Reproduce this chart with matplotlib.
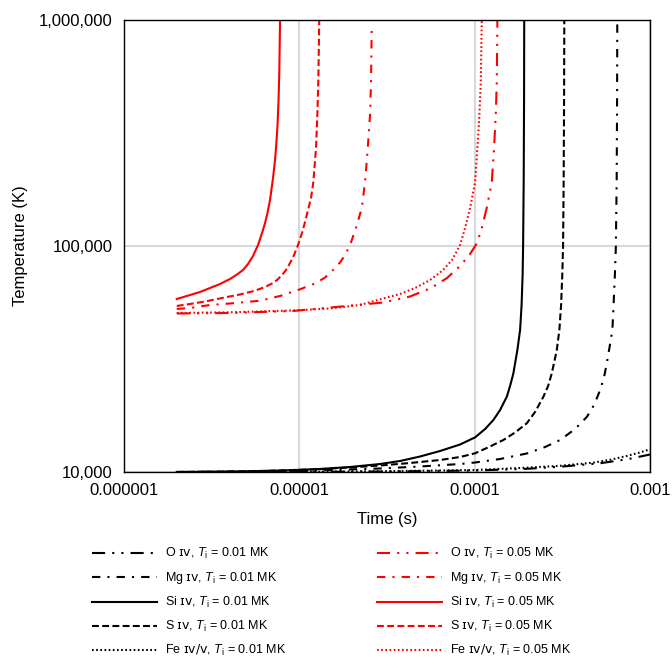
import matplotlib
matplotlib.use("Agg")
import matplotlib.pyplot as plt

plt.rcParams['font.family'] = ['Liberation Sans', 'DejaVu Sans']
plt.rcParams['mathtext.fontset'] = 'custom'
plt.rcParams['mathtext.rm'] = 'Liberation Sans'
plt.rcParams['mathtext.it'] = 'Liberation Sans:italic'
plt.rcParams['mathtext.sf'] = 'DejaVu Sans'

# ---- data (time in s, temperature in K) ----
# T_i = 0.01 MK (black)
t_O_01 = [2e-6, 1e-5, 3e-5, 1e-4, 1.98e-4, 3.07e-4, 5.19e-4, 7.5e-4, 1e-3]
T_O_01 = [10000, 10010, 10050, 10150, 10330, 10550, 10930, 11400, 11950]

t_Mg_01 = [2e-6, 1.009e-5, 2.887e-5, 4.882e-5, 8.257e-5, 1.006e-4, 1.396e-4,
           1.983e-4, 2.522e-4, 3.071e-4, 3.74e-4, 4.361e-4, 4.799e-4, 5.193e-4,
           5.472e-4, 5.669e-4, 5.974e-4, 6.102e-4, 6.198e-4, 6.305e-4,
           6.388e-4, 6.456e-4, 6.49e-4, 6.507e-4]
T_Mg_01 = [10000, 10102, 10363, 10576, 10848, 11016, 11415,
           12073, 12899, 13850, 15490, 17510, 19780, 23030,
           26300, 30230, 38320, 42430, 54720, 74250,
           99750, 195300, 440900, 1000000]

t_Si_01 = [2e-6, 4.024e-6, 8.074e-6, 1.313e-5, 1.947e-5, 2.887e-5, 3.754e-5,
           4.882e-5, 6.348e-5, 8.257e-5, 1.006e-4, 1.147e-4, 1.279e-4, 1.396e-4,
           1.525e-4, 1.592e-4, 1.663e-4, 1.752e-4, 1.816e-4, 1.852e-4,
           1.877e-4, 1.889e-4, 1.904e-4, 1.913e-4, 1.917e-4]
T_Si_01 = [10000, 10041, 10154, 10310, 10522, 10848, 11184,
           11708, 12383, 13230, 14230, 15490, 16980, 18790,
           21520, 23990, 27310, 34610, 42430, 54720,
           74250, 99750, 195300, 440900, 1000000]

t_S_01 = [2e-6, 5.235e-6, 1.262e-5, 1.947e-5, 3.003e-5, 4.281e-5, 6.348e-5,
          8.257e-5, 1.006e-4, 1.224e-4, 1.458e-4, 1.7e-4, 1.983e-4, 2.211e-4,
          2.466e-4, 2.623e-4, 2.754e-4, 2.94e-4, 3.042e-4, 3.111e-4,
          3.16e-4, 3.193e-4, 3.218e-4, 3.236e-4, 3.245e-4]
T_S_01 = [10000, 10061, 10279, 10469, 10706, 10959, 11298,
          11650, 12098, 12966, 13850, 14950, 16420, 18420,
          21520, 23990, 27310, 34610, 42430, 54720,
          74250, 99750, 195300, 440900, 1000000]

t_Fe_01 = [2e-6, 1e-5, 3e-5, 1e-4, 1.98e-4, 3.07e-4, 4.75e-4, 6e-4, 7.36e-4,
           8.6e-4, 1e-3]
T_Fe_01 = [10000, 10020, 10080, 10200, 10450, 10650, 11000, 11350, 11770,
           12150, 12600]

# T_i = 0.05 MK (red)
t_O_05 = [2e-6, 4.024e-6, 9.21e-6, 1.872e-5, 3.003e-5, 4.281e-5, 5.641e-5,
          6.961e-5, 8.257e-5, 9.417e-5, 1.032e-4, 1.098e-4, 1.172e-4,
          1.252e-4, 1.29e-4, 1.319e-4, 1.337e-4, 1.348e-4]
T_O_05 = [50190, 50450, 51490, 54180, 56130, 59670, 65050,
          72010, 81380, 91940, 102850, 119800, 146900,
          191300, 270400, 378400, 529600, 1000000]

t_Mg_05 = [2e-6, 2.38e-6, 3.094e-6, 4.024e-6, 5.967e-6, 7.762e-6, 1.009e-5,
           1.245e-5, 1.402e-5, 1.557e-5, 1.707e-5, 1.823e-5, 1.947e-5,
           2.106e-5, 2.27e-5, 2.371e-5, 2.456e-5, 2.531e-5, 2.564e-5, 2.588e-5]
T_Mg_05 = [52550, 53080, 54720, 55560, 57160, 59970, 64190,
           68440, 72380, 78130, 84330, 91000, 100770,
           119800, 146900, 191300, 270400, 378400, 529600, 945600]

t_Si_05 = [2e-6, 2.38e-6, 2.714e-6, 3.094e-6, 3.528e-6, 4.024e-6, 4.413e-6,
           4.774e-6, 5.098e-6, 5.444e-6, 5.813e-6, 6.13e-6, 6.376e-6,
           6.545e-6, 6.807e-6, 7.079e-6, 7.268e-6, 7.364e-6, 7.511e-6,
           7.611e-6, 7.691e-6, 7.762e-6]
T_Si_05 = [58160, 60570, 62450, 65050, 67760, 71300, 74640,
           78130, 83070, 90100, 100770, 113900, 126100,
           136800, 159300, 199300, 239300, 270400, 341800,
           440900, 598200, 1000000]

t_S_05 = [2e-6, 2.38e-6, 2.898e-6, 3.869e-6, 4.589e-6, 5.515e-6, 6.376e-6,
          6.988e-6, 7.462e-6, 7.967e-6, 8.399e-6, 8.851e-6, 9.328e-6,
          9.831e-6, 1.036e-5, 1.078e-5, 1.121e-5, 1.166e-5, 1.202e-5,
          1.245e-5, 1.267e-5, 1.283e-5, 1.299e-5]
T_S_05 = [54180, 55290, 56700, 59360, 60890, 63100, 65720,
          68100, 70560, 74250, 78130, 83900, 91000,
          100770, 113900, 127400, 143900, 162600, 191300,
          270400, 378400, 529600, 1000000]

t_Fe_05 = [2e-6, 4.024e-6, 9.21e-6, 1.497e-5, 2.22e-5, 3.003e-5, 3.754e-5,
           4.574e-5, 5.57e-5, 6.605e-5, 7.432e-5, 8.257e-5, 8.816e-5,
           9.417e-5, 1.006e-4, 1.036e-4, 1.064e-4, 1.084e-4, 1.098e-4]
T_Fe_05 = [50450, 50810, 51750, 52810, 54720, 58470, 61200,
           65050, 70560, 78130, 86500, 100770, 119800,
           146900, 191300, 270400, 378400, 529600, 1000000]

x_ticks = [1e-6, 1e-5, 1e-4, 1e-3]
x_tick_labels = ["0.000001", "0.00001", "0.0001", "0.001"]
y_ticks = [1e4, 1e5, 1e6]
y_tick_labels = ["10,000", "100,000", "1,000,000"]

ions = ["O $\\mathsf{ɪᴠ}$", "Mg $\\mathsf{ɪᴠ}$", "Si $\\mathsf{ɪᴠ}$",
        "S $\\mathsf{ɪᴠ}$", "Fe $\\mathsf{ɪᴠ/ᴠ}$"]
styles = [(0, (6.3, 3.4, 1, 3.4, 1, 3.4)),
          (0, (4, 3.4, 1, 3.4)),
          '-',
          (0, (3.3, 1.6)),
          (0, (0.8, 1.2))]

series_01 = [(t_O_01, T_O_01), (t_Mg_01, T_Mg_01), (t_Si_01, T_Si_01),
             (t_S_01, T_S_01), (t_Fe_01, T_Fe_01)]
series_05 = [(t_O_05, T_O_05), (t_Mg_05, T_Mg_05), (t_Si_05, T_Si_05),
             (t_S_05, T_S_05), (t_Fe_05, T_Fe_05)]

fig = plt.figure(figsize=(6.72, 6.57), dpi=100)
ax = fig.add_axes([124/672, 1-472/657, (650-124)/672, (472-19.5)/657])

h01, l01, h05, l05 = [], [], [], []
for (t, T), ion, ls in zip(series_01, ions, styles):
    h, = ax.plot(t, T, color='black', lw=1.5, ls=ls)
    h01.append(h)
    l01.append(ion + ", $T_\\mathrm{i}$ = 0.01 MK")
for (t, T), ion, ls in zip(series_05, ions, styles):
    h, = ax.plot(t, T, color='#ff0000', lw=1.5, ls=ls)
    h05.append(h)
    l05.append(ion + ", $T_\\mathrm{i}$ = 0.05 MK")

ax.set_xscale('log')
ax.set_yscale('log')
ax.set_xlim(1e-6, 1e-3)
ax.set_ylim(1e4, 1e6)
ax.set_xticks(x_ticks)
ax.set_xticklabels(x_tick_labels)
ax.set_yticks(y_ticks)
ax.set_yticklabels(y_tick_labels)
ax.minorticks_off()
ax.tick_params(length=0, pad=8, labelsize=12)
ax.grid(True, which='major', color='#d9d9d9', lw=1.5)
ax.set_axisbelow(True)
for sp in ax.spines.values():
    sp.set_linewidth(1.0)
    sp.set_color('black')

ax.set_xlabel("Time (s)", fontsize=12, labelpad=10)
ax.set_ylabel("Temperature (K)", fontsize=12, labelpad=8)

leg_kw = dict(loc='upper left', frameon=False, fontsize=9, handlelength=5.2,
              handletextpad=0.64, labelspacing=0.72, borderpad=0,
              borderaxespad=0)
leg1 = fig.legend(h01, l01, bbox_to_anchor=(92/672, 1-546/657), **leg_kw)
leg2 = fig.legend(h05, l05, bbox_to_anchor=(377/672, 1-546/657), **leg_kw)

fig.savefig("out.png", dpi=100)
